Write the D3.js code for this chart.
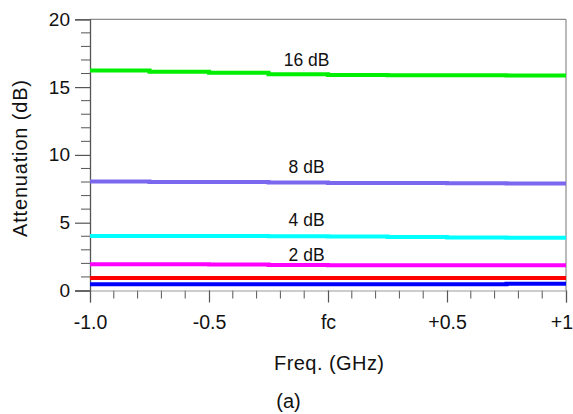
<!DOCTYPE html>
<html>
<head>
<meta charset="utf-8">
<script src="https://cdn.jsdelivr.net/npm/d3@7"></script>
<style>
  html, body { margin: 0; padding: 0; background: #fff; }
  svg { display: block; font-family: "Liberation Sans", Arial, Helvetica, sans-serif; }
</style>
</head>
<body>
<svg id="chart" width="573" height="414"></svg>
<script>
// Frequency offset positions (GHz) at which each attenuation state is sampled
const freqs = [-1.0, -0.75, -0.5, -0.25, 0, 0.25, 0.5, 0.75, 1.0];

// Measured attenuation (dB) for each state
const att16 = [16.22, 16.14, 16.05, 15.95, 15.9, 15.88, 15.87, 15.86, 15.86];
const att8  = [8.03, 8.01, 8.0, 7.96, 7.93, 7.92, 7.91, 7.9, 7.9];
const att4  = [4.02, 4.02, 4.01, 4.0, 3.98, 3.94, 3.9, 3.89, 3.89];
const att2  = [1.93, 1.93, 1.92, 1.88, 1.87, 1.86, 1.86, 1.86, 1.86];
const att1  = [0.92, 0.92, 0.92, 0.92, 0.92, 0.92, 0.92, 0.92, 0.92];
const att05 = [0.46, 0.46, 0.46, 0.46, 0.46, 0.46, 0.47, 0.5, 0.5];

const seriesNames  = ["16 dB", "8 dB", "4 dB", "2 dB", "1 dB", "0.5 dB"];
const seriesColors = ["#00ee00", "#7b68ee", "#00ffff", "#ff00ff", "#ff0000", "#0000ff"];
const seriesValues = [att16, att8, att4, att2, att1, att05];
// Labelled states and where their captions sit (x in GHz, y in dB at the baseline)
const labelText = ["16 dB", "8 dB", "4 dB", "2 dB"];
const labelAt   = [[-0.09, 16.55], [-0.09, 8.7], [-0.09, 4.78], [-0.09, 2.2]];

const xTickVals   = [-1.0, -0.5, 0, 0.5, 1.0];
const xTickLabels = ["-1.0", "-0.5", "fc", "+0.5", "+1"];
const yTickVals   = [0, 5, 10, 15, 20];

const svg = d3.select("#chart");
const plotLeft = 90, plotRight = 566, plotTop = 19.3, plotBottom = 290.5;

const x = d3.scaleLinear().domain([-1, 1]).range([plotLeft, plotRight]);
const y = d3.scaleLinear().domain([0, 20]).range([plotBottom, plotTop]);

// Frame: top and right edges
svg.append("line").attr("x1", plotLeft).attr("x2", plotRight).attr("y1", plotTop).attr("y2", plotTop)
  .attr("stroke", "#8c8c8c").attr("stroke-width", 1.2);
svg.append("line").attr("x1", plotRight).attr("x2", plotRight).attr("y1", plotTop).attr("y2", plotBottom)
  .attr("stroke", "#8c8c8c").attr("stroke-width", 1.2);

// Minor ticks
const yMinor = d3.range(0, 21, 1).filter(v => v % 5 !== 0);
svg.append("g").selectAll("line").data(yMinor).join("line")
  .attr("x1", plotLeft - 9).attr("x2", plotLeft).attr("y1", d => y(d)).attr("y2", d => y(d))
  .attr("stroke", "#555").attr("stroke-width", 1);
const xMinor = d3.range(-10, 11).map(v => v / 10).filter(v => Math.abs(Math.round(v * 10)) % 5 !== 0);
svg.append("g").selectAll("line").data(xMinor).join("line")
  .attr("x1", d => x(d)).attr("x2", d => x(d)).attr("y1", plotBottom).attr("y2", plotBottom + 8)
  .attr("stroke", "#555").attr("stroke-width", 1);

// Y axis
const yAxis = svg.append("g").attr("transform", `translate(${plotLeft},0)`)
  .call(d3.axisLeft(y).tickValues(yTickVals).tickSize(15).tickPadding(5));
yAxis.select(".domain").attr("stroke", "#555").attr("stroke-width", 1.3);
yAxis.selectAll(".tick line").attr("stroke", "#555").attr("stroke-width", 1.2);
yAxis.selectAll(".tick text").attr("font-size", 19).attr("fill", "#111")
  .attr("font-family", "Liberation Sans, Arial, sans-serif");

// X axis
const xAxis = svg.append("g").attr("transform", `translate(0,${plotBottom})`)
  .call(d3.axisBottom(x).tickValues(xTickVals).tickFormat((d, i) => xTickLabels[i])
    .tickSize(12).tickPadding(13));
xAxis.select(".domain").attr("stroke", "#999").attr("stroke-width", 1.2);
xAxis.selectAll(".tick line").attr("stroke", "#555").attr("stroke-width", 1.2);
xAxis.selectAll(".tick text").attr("font-size", 19.5).attr("fill", "#111")
  .attr("font-family", "Liberation Sans, Arial, sans-serif");
// The last label sits against the page edge; keep it inside
xAxis.selectAll(".tick text").filter((d, i) => i === xTickVals.length - 1)
  .attr("text-anchor", "end").attr("x", 6.5);

// Attenuation traces
const line = d3.line().x((d, i) => x(freqs[i])).y(d => y(d)).curve(d3.curveStepAfter);
svg.append("g").selectAll("path").data(seriesValues).join("path")
  .attr("d", d => line(d))
  .attr("fill", "none")
  .attr("stroke", (d, i) => seriesColors[i])
  .attr("stroke-width", 4);

// State captions
svg.append("g").selectAll("text").data(labelText).join("text")
  .attr("x", (d, i) => x(labelAt[i][0]))
  .attr("y", (d, i) => y(labelAt[i][1]))
  .attr("text-anchor", "middle")
  .attr("font-size", 17.5).attr("fill", "#111")
  .text(d => d);

// Axis titles
svg.append("text")
  .attr("transform", `translate(27,158.5) rotate(-90)`)
  .attr("text-anchor", "middle").attr("font-size", 20).attr("fill", "#111")
  .attr("textLength", 157).attr("lengthAdjust", "spacing")
  .text("Attenuation (dB)");
svg.append("text")
  .attr("x", 329).attr("y", 370)
  .attr("text-anchor", "middle").attr("font-size", 20).attr("fill", "#111")
  .attr("textLength", 110).attr("lengthAdjust", "spacing")
  .text("Freq. (GHz)");
svg.append("text")
  .attr("x", 288.5).attr("y", 408)
  .attr("text-anchor", "middle").attr("font-size", 20).attr("fill", "#111")
  .text("(a)");
</script>
</body>
</html>
